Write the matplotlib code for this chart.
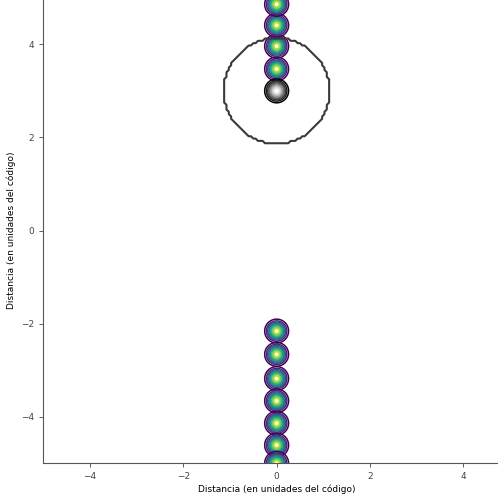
import numpy as np
import matplotlib
matplotlib.use("Agg")
import matplotlib.pyplot as plt

# charge positions
col_x = 0.0
upper_y = [3.47, 3.96, 4.41, 4.86]
lower_y = [-2.16, -2.66, -3.18, -3.66, -4.14, -4.61, -5.0]
probe_y = 3.0           # black charge
ring_center = (0.0, 3.0)
ring_radius = 1.13

# gaussian blob width and its contour levels
blob_sigma = 0.128
levels = np.linspace(0.135, 1.0, 10)

fig = plt.figure(figsize=(4.98, 4.95), dpi=100)
ax = fig.add_axes([0.087, 0.0641, 0.937, 0.9404])

# local grid around each charge
g = np.linspace(-0.35, 0.35, 301)
gx, gy = np.meshgrid(g, g)
z = np.exp(-(gx**2 + gy**2) / (2 * blob_sigma**2))

for yc in upper_y + lower_y:
    ax.contour(gx + col_x, gy + yc, z, levels=levels, cmap="viridis", linewidths=1.1)
ax.contour(gx + col_x, gy + probe_y, z, levels=levels, cmap="gray", linewidths=1.1)

# boundary region on the coarse simulation grid
x = np.linspace(-5, 5, 201)
X, Y = np.meshgrid(x, x)
mask = ((X - ring_center[0])**2 + (Y - ring_center[1])**2 < ring_radius**2).astype(float)
ax.contour(X, Y, mask, levels=[0.5], colors="#3a3a3a", linewidths=1.5)

ax.set_xlim(-5, 5)
ax.set_ylim(-5, 5)
ax.set_xticks([-4, -2, 0, 2, 4])
ax.set_yticks([-4, -2, 0, 2, 4])
ax.tick_params(labelsize=6.5, length=3, width=0.6, colors="#444444")
for s in ax.spines.values():
    s.set_color("#555555")
ax.set_xlabel("Distancia (en unidades del código)", fontsize=6.5, labelpad=2)
ax.set_ylabel("Distancia (en unidades del código)", fontsize=6.5, labelpad=4)

fig.savefig("out.png", dpi=100)
